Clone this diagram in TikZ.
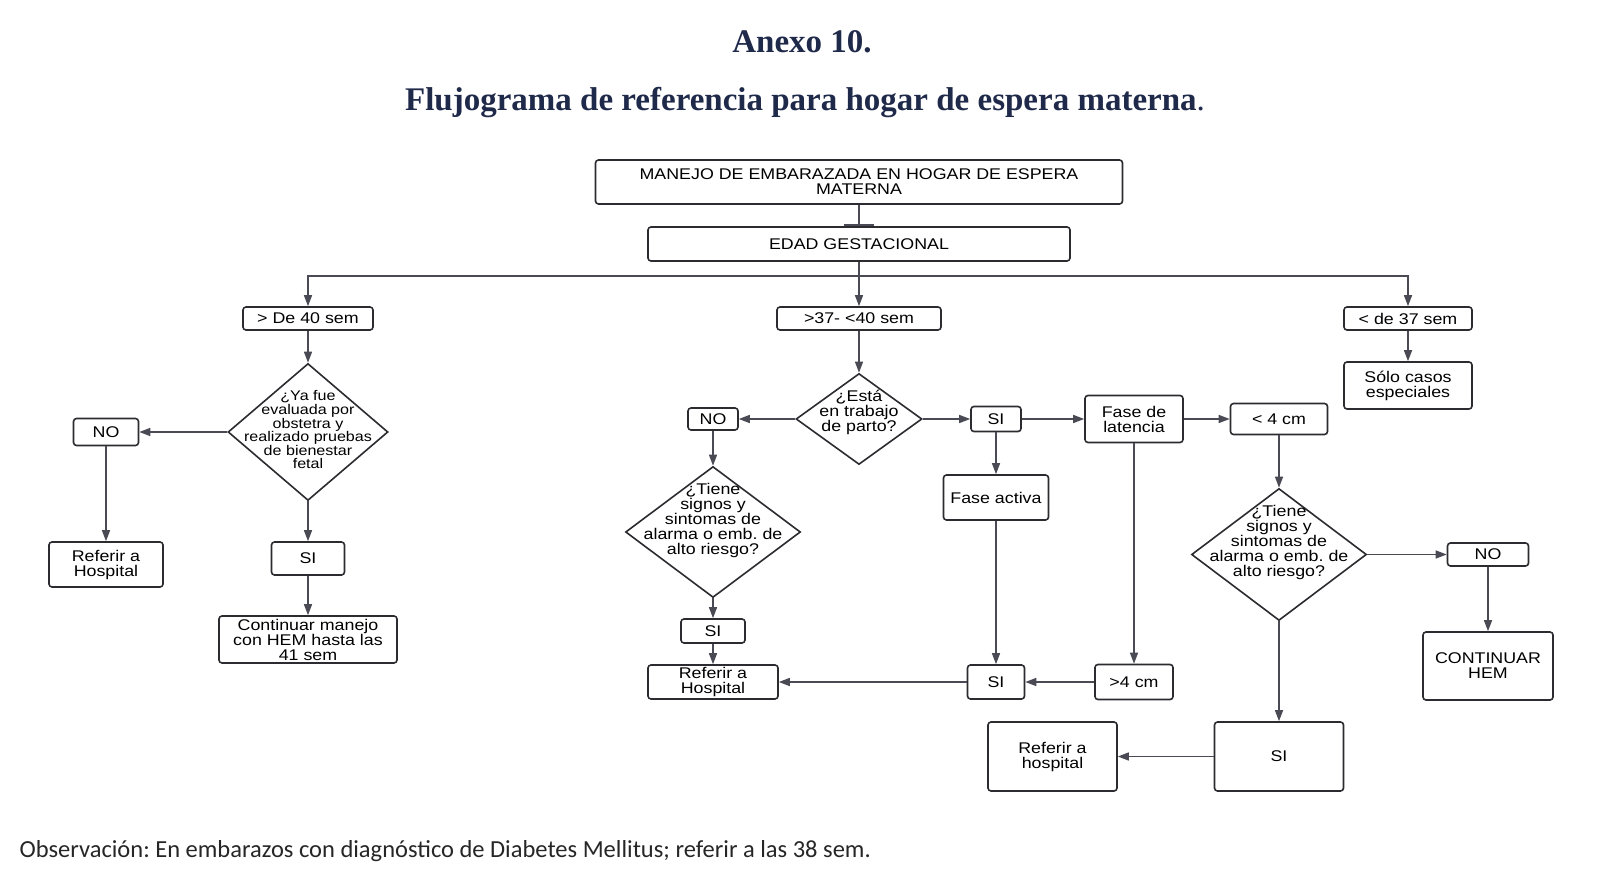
\documentclass[tikz,border=0pt]{standalone}
\usepackage{fontspec}
\usetikzlibrary{arrows.meta,shapes.geometric}
\newfontfamily\diagfont[FakeStretch=1.15]{Liberation Sans}
\newfontfamily\headfont{Liberation Serif}
\newfontfamily\notefont{Carlito}
\definecolor{ink}{HTML}{2B2B30}
\definecolor{wire}{HTML}{4A4A55}
\definecolor{navy}{HTML}{1F2A4A}
\frenchspacing
\tikzset{>={Triangle[length=11pt,width=8pt]},
  every node/.style={font=\diagfont\fontsize{15.5}{15}\selectfont},
  box/.style={draw=ink,line width=1.6pt,rounded corners=3pt,fill=white,
    align=center,inner sep=0pt},
  sz/.style 2 args={minimum width=#1pt,minimum height=#2pt},
  dia/.style={diamond,draw=ink,line width=1.6pt,fill=white,inner sep=0pt},
  dtxt/.style={align=center,inner sep=0pt},
  wire/.style={draw=wire,line width=1.4pt}}
\begin{document}
\begin{tikzpicture}[x=1pt,y=-1pt]
\useasboundingbox (0,0) rectangle (1610,882);
% titles
\node[font=\headfont\bfseries\fontsize{33}{36}\selectfont,text=navy,anchor=base] (anexo) at (802,53) {Anexo 10.};
\node[font=\headfont\fontsize{33}{36}\selectfont,text=navy,anchor=base] (titulo) at (805,111)
  {\textbf{Flujograma de referencia para hogar de espera materna}.};
% top of the chart
\node[box,sz={527}{44}] (manejo) at (859,182) {MANEJO DE EMBARAZADA EN HOGAR DE ESPERA\\MATERNA};
\node[box,sz={422}{34}] (edad) at (859,244) {EDAD GESTACIONAL};
\node[box,sz={130}{23}] (gtforty) at (308,318.5) {> De 40 sem};
\node[box,sz={164}{23}] (mid) at (859,318.5) {>37- <40 sem};
\node[box,sz={128}{23}] (ltthirty) at (1408,318.5) {< de 37 sem};
\coordinate (split) at (859,276);
% left branch
\node[dia,sz={160}{137},label={[dtxt,yshift=2pt,font=\diagfont\fontsize{14}{13.6}\selectfont]center:{¿Ya fue\\evaluada por\\obstetra y\\realizado pruebas\\de bienestar\\fetal}}] (q1) at (308,432) {};
\node[box,sz={65}{27}] (noA) at (106,432) {NO};
\node[box,sz={114}{45}] (refA) at (106,564.5) {Referir a\\Hospital};
\node[box,sz={73}{33}] (siA) at (308,558.5) {SI};
\node[box,sz={178}{47}] (contA) at (308,639.5) {Continuar manejo\\con HEM hasta las\\41 sem};
% middle branch
\node[dia,sz={126}{91},label={[dtxt,yshift=7pt]center:{¿Está\\en trabajo\\de parto?}}] (q2) at (859,419) {};
\node[box,sz={50}{22}] (noB) at (713,419) {NO};
\node[box,sz={50}{25}] (siB) at (996,419) {SI};
\node[box,sz={98}{47}] (latB) at (1134,419) {Fase de\\latencia};
\node[box,sz={97}{31}] (lt4) at (1279,419) {< 4 cm};
\node[box,sz={105}{45}] (activa) at (996,497.5) {Fase activa};
\node[dia,sz={175}{131},label={[dtxt,yshift=12pt]center:{¿Tiene\\signos y\\sintomas de\\alarma o emb. de\\alto riesgo?}}] (q3) at (713,532) {};
\node[box,sz={64}{24}] (siD) at (713,631) {SI};
\node[box,sz={130}{34}] (refB) at (713,682) {Referir a\\Hospital};
\node[box,sz={57}{34}] (siC) at (996,682) {SI};
\node[box,sz={78}{35}] (gt4) at (1134,682) {>4 cm};
% right branch
\node[box,sz={128}{47}] (solo) at (1408,385.5) {Sólo casos\\especiales};
\node[dia,sz={175}{132},label={[dtxt,yshift=12pt]center:{¿Tiene\\signos y\\sintomas de\\alarma o emb. de\\alto riesgo?}}] (q4) at (1279,554.5) {};
\node[box,sz={81}{23}] (noE) at (1488,554.5) {NO};
\node[box,sz={130}{68}] (contE) at (1488,666) {CONTINUAR\\HEM};
\node[box,sz={129}{69}] (siE) at (1279,756.5) {SI};
\node[box,sz={129}{69}] (refE) at (1052.5,756.5) {Referir a\\hospital};
% connectors
\draw[wire,-{Bar[width=30pt,line width=2.4pt]}] (manejo) -- (edad);
\draw[wire] (edad) -- (split);
\draw[wire,->] (split) -| (gtforty);
\draw[wire,->] (split) -- (mid);
\draw[wire,->] (split) -| (ltthirty);
\draw[wire,->] (gtforty) -- (q1);
\draw[wire,->] (q1) -- (noA);
\draw[wire,->] (noA) -- (refA);
\draw[wire,->] (q1) -- (siA);
\draw[wire,->] (siA) -- (contA);
\draw[wire,->] (mid) -- (q2);
\draw[wire,->] (q2) -- (noB);
\draw[wire,->] (q2) -- (siB);
\draw[wire,->] (siB) -- (latB);
\draw[wire,->] (latB) -- (lt4);
\draw[wire,->] (siB) -- (activa);
\draw[wire,->] (activa) -- (siC);
\draw[wire,->] (latB) -- (gt4);
\draw[wire,->] (gt4) -- (siC);
\draw[wire,->] (siC) -- (refB);
\draw[wire,->] (noB) -- (q3);
\draw[wire,->] (q3) -- (siD);
\draw[wire,->] (siD) -- (refB);
\draw[wire,->] (ltthirty) -- (solo);
\draw[wire,->] (lt4) -- (q4);
\draw[wire,->] (q4) -- (noE);
\draw[wire,->] (noE) -- (contE);
\draw[wire,->] (q4) -- (siE);
\draw[wire,->] (siE) -- (refE);
% note
\node[font=\notefont\fontsize{24.5}{28}\selectfont,text=black!85,anchor=base west] (nota) at (16,857)
  {Observación: En embarazos con diagnóstico de Diabetes Mellitus; referir a las 38 sem.};
\end{tikzpicture}
\end{document}
